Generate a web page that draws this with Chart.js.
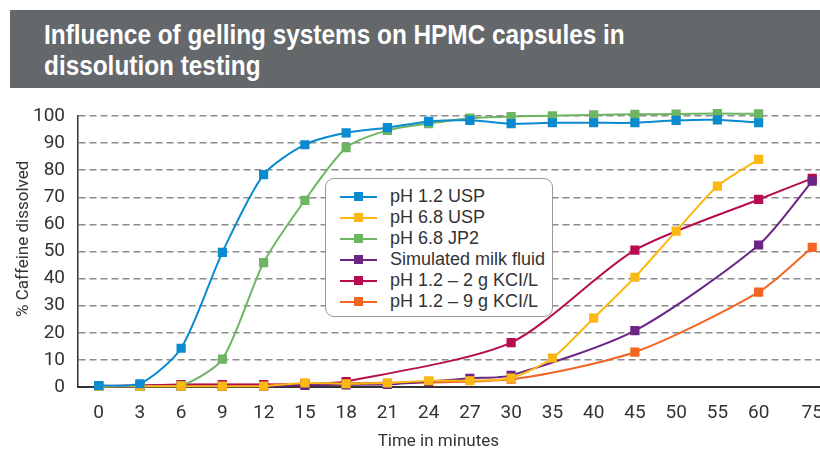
<!DOCTYPE html>
<html>
<head>
<meta charset="utf-8">
<script src="https://cdn.jsdelivr.net/npm/chart.js@4.4.1/dist/chart.umd.min.js"></script>
<style>
  html, body { margin: 0; padding: 0; background: #fff; overflow: hidden; width: 820px; height: 452px; }
  #wrap { position: relative; width: 820px; height: 452px; overflow: hidden; }
  #chart { position: absolute; left: 0; top: 0; }
  #band { position: absolute; left: 10px; top: 10px; width: 810px; height: 78px; background: #64686b; }
  #title {
    position: absolute; left: 44px; top: 19px; white-space: nowrap;
    color: #fff; font-family: 'Liberation Sans', Arial, sans-serif;
    font-weight: bold; font-size: 28px; line-height: 31px;
    transform: scaleX(0.87); transform-origin: 0 0;
  }
  #legend {
    position: absolute; left: 325px; top: 178px; width: 228px; height: 139px;
    box-sizing: border-box; border: 1.5px solid #9a9a9a; border-radius: 9px;
    background: #fff; padding-top: 7px;
    font-family: 'Liberation Sans', Arial, sans-serif; font-size: 18px; color: #333;
  }
  .row { height: 21px; line-height: 21px; position: relative; white-space: nowrap; }
  .row .ln { position: absolute; left: 14px; top: 9.5px; width: 37px; height: 2px; }
  .row .mk { position: absolute; left: 28px; top: 6px; width: 9px; height: 9px; }
  .row span.tx { position: absolute; left: 64px; top: 0; }
</style>
</head>
<body>
<div id="wrap">
  <canvas id="chart" width="860" height="452"></canvas>
  <div id="band"></div>
  <div id="title">Influence of gelling systems on HPMC capsules in<br>dissolution testing</div>
  <div id="legend"></div>
</div>
<script>
// categorías del eje x (minutos) y su posición en el eje
const timeLabels = ['0', '3', '6', '9', '12', '15', '18', '21', '24', '27', '30', '35', '40', '45', '50', '55', '60', '75'];
const slotPos = [0, 1, 2, 3, 4, 5, 6, 7, 8, 9, 10, 11, 12, 13, 14, 15, 16, 17.3];

// % cafeína disuelta por serie
const ph12Usp = [0.5, 1.2, 14.3, 49.7, 78.4, 89.4, 93.8, 95.7, 98.0, 98.4, 97.2, 97.5, 97.5, 97.5, 98.4, 98.6, 97.5, null];
const ph68Usp = [0.2, 0.3, 0.3, 0.3, 0.3, 1.5, 1.2, 1.5, 2.3, 2.3, 3.3, 10.7, 25.4, 40.5, 57.5, 74.1, 84.0, null];
const ph68Jp2 = [0.2, 0.3, 0.5, 10.3, 45.9, 68.9, 88.3, 94.7, 97.2, 99.2, 99.8, 100.1, 100.4, 100.6, 100.7, 100.9, 100.8, null];
const milkFluid = [0.2, 0.2, 0.3, 0.3, 0.3, 0.6, 0.8, 1.0, 2.0, 3.2, 4.3, null, null, 20.8, null, null, 52.4, 76.0];
const kcl2 = [0.4, 0.6, 0.9, 0.9, 0.9, 1.1, 2.0, null, null, null, 16.4, null, null, 50.5, null, null, 69.2, 77.0];
const kcl9 = [0.3, 0.4, 0.8, 0.8, 0.8, 1.0, 1.4, null, null, null, 2.9, null, null, 12.9, null, null, 35.0, 51.5];

const seriesNames = ['pH 1.2 USP', 'pH 6.8 USP', 'pH 6.8 JP2', 'Simulated milk fluid', 'pH 1.2 \u2013 2 g KCI/L', 'pH 1.2 \u2013 9 g KCI/L'];
const seriesValues = [ph12Usp, ph68Usp, ph68Jp2, milkFluid, kcl2, kcl9];
const seriesColors = ['#0a8bcf', '#fbb813', '#6db463', '#6b2585', '#b70c4f', '#f26522'];

const axisFont = 'Roboto, sans-serif';

const datasets = seriesValues.map(function(vals, i) {
    return {
        label: seriesNames[i],
        data: vals.map(function(v, j) { return { x: slotPos[j], y: v }; }),
        borderColor: seriesColors[i],
        backgroundColor: seriesColors[i],
        borderWidth: 2,
        pointStyle: 'rect',
        pointRadius: 6.5,
        pointBorderWidth: 0,
        pointBackgroundColor: seriesColors[i],
        tension: 0.25,
        spanGaps: true,
        clip: 8
    };
});

new Chart(document.getElementById('chart'), {
    type: 'line',
    data: { datasets: datasets },
    options: {
        responsive: false,
        animation: false,
        devicePixelRatio: 1,
        layout: { padding: { left: 0, top: 116, right: 0, bottom: 0 } },
        plugins: { legend: { display: false }, tooltip: { enabled: false } },
        scales: {
            x: {
                type: 'linear',
                min: -0.5,
                max: 18.3,
                afterFit: function(scale) { scale.height = 65; },
                afterBuildTicks: function(scale) {
                    scale.ticks = slotPos.map(function(v) { return { value: v }; });
                },
                grid: { display: false, drawTicks: false },
                border: { color: '#333', width: 2 },
                ticks: {
                    autoSkip: false,
                    maxRotation: 0,
                    padding: 15,
                    color: '#333',
                    font: { family: axisFont, size: 19 },
                    callback: function(v, i) { return timeLabels[i]; }
                },
                title: {
                    display: true,
                    text: 'Time in minutes' + ' '.repeat(13),
                    color: '#333',
                    font: { family: axisFont, size: 17 },
                    padding: { top: 0, bottom: 0 }
                }
            },
            y: {
                min: 0,
                max: 100,
                afterFit: function(scale) { scale.width = 78; },
                ticks: {
                    stepSize: 10,
                    padding: 13,
                    color: '#333',
                    font: { family: axisFont, size: 19 }
                },
                grid: {
                    drawTicks: false,
                    lineWidth: 1.5,
                    color: function(ctx) { return ctx.tick && ctx.tick.value === 0 ? 'rgba(0,0,0,0)' : '#8c8c8c'; }
                },
                border: { color: '#333', width: 1.5, dash: [7, 4] },
                title: {
                    display: true,
                    text: ' '.repeat(6) + '% Caffeine dissolved',
                    color: '#333',
                    font: { family: axisFont, size: 17 },
                    padding: { top: 14, bottom: 0 }
                }
            }
        }
    }
});

// leyenda en HTML dentro del área del gráfico
const legendEl = document.getElementById('legend');
seriesNames.forEach(function(name, i) {
    const row = document.createElement('div');
    row.className = 'row';
    row.innerHTML = '<div class="ln" style="background:' + seriesColors[i] + '"></div>' +
        '<div class="mk" style="background:' + seriesColors[i] + '"></div>' +
        '<span class="tx">' + name + '</span>';
    legendEl.appendChild(row);
});
</script>
</body>
</html>
